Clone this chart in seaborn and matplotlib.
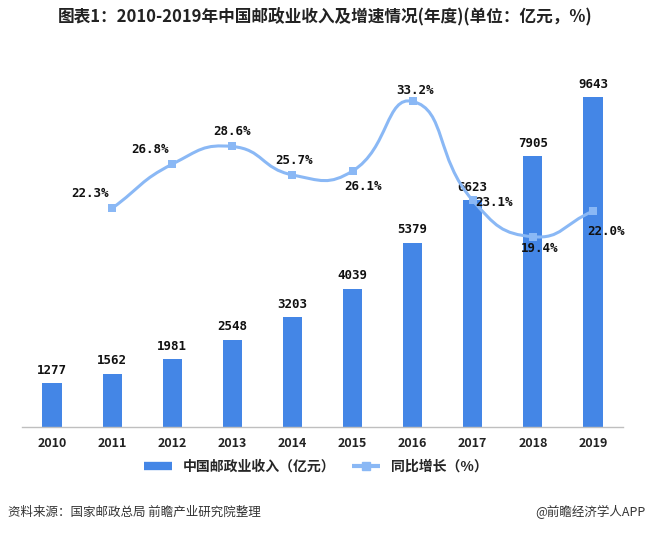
import numpy as np
import seaborn as sns
import matplotlib.pyplot as plt
from matplotlib.path import Path
from matplotlib.patches import PathPatch
from matplotlib.lines import Line2D

years = ['2010', '2011', '2012', '2013', '2014', '2015', '2016', '2017', '2018', '2019']
revenue = [1277, 1562, 1981, 2548, 3203, 4039, 5379, 6623, 7905, 9643]
growth_years = ['2011', '2012', '2013', '2014', '2015', '2016', '2017', '2018', '2019']
growth = [22.3, 26.8, 28.6, 25.7, 26.1, 33.2, 23.1, 19.4, 22.0]

# label offsets (pixels) for the growth labels
g_off = [(-22, 15), (-22, 15), (0, 15), (2, 14), (10, -15), (2, 11), (21, -2), (7, -12), (13, -20)]

bar_c = '#4486e6'
line_c = '#8ab8f5'

sns.set_style('white')
plt.rcParams['font.family'] = ['Noto Sans CJK SC', 'DejaVu Sans']

fig = plt.figure(figsize=(6.51, 5.33), dpi=100)
ax = fig.add_axes([22 / 651, 106 / 533, 601 / 651, 357 / 533])

sns.barplot(x=years, y=revenue, color=bar_c, width=0.32, saturation=1,
            linewidth=0, ax=ax)
ax.set_xlim(-0.5, 9.5)
ax.set_ylim(0, 10432)
for i, v in enumerate(revenue):
    ax.annotate(str(v), (i, v), xytext=(0, 13), textcoords='offset pixels',
                ha='center', va='center', fontsize=9, fontweight='bold',
                family='DejaVu Sans Mono', color='#111111')

ax2 = ax.twinx()
ax2.set_ylim(0, 36.4)
ax2.set_xlim(-0.5, 9.5)
gx = [years.index(y) for y in growth_years]

# smooth curve through the points (bezier, echarts-like smoothing)
fig.canvas.draw()
pts = ax2.transData.transform(np.column_stack([gx, growth]))
n = len(pts)
cps = []
for i in range(n):
    p = pts[i]
    prev = pts[i - 1] if i > 0 else p
    nxt = pts[i + 1] if i < n - 1 else p
    v = (nxt - prev) * 0.5
    d0 = np.hypot(*(p - prev))
    d1 = np.hypot(*(nxt - p))
    s = d0 + d1
    cps.append((p - v * d0 / s, p + v * d1 / s))
verts = [pts[0]]
codes = [Path.MOVETO]
for i in range(n - 1):
    verts += [cps[i][1], cps[i + 1][0], pts[i + 1]]
    codes += [Path.CURVE4] * 3
verts = ax2.transData.inverted().transform(np.array(verts))
ax2.add_patch(PathPatch(Path(verts, codes), fill=False, ec=line_c, lw=2.2, zorder=3))

sns.scatterplot(x=gx, y=growth, marker='s', s=36, color=line_c, edgecolor=line_c,
                linewidth=0, ax=ax2, zorder=4)
for x, v, (dx, dy) in zip(gx, growth, g_off):
    ax2.annotate(f'{v:.1f}%', (x, v), xytext=(dx, dy), textcoords='offset pixels',
                 ha='center', va='center', fontsize=9, fontweight='bold',
                 family='DejaVu Sans Mono', color='#111111', zorder=5)

for a in (ax, ax2):
    for sp in ['top', 'left', 'right']:
        a.spines[sp].set_visible(False)
    a.set_yticks([])
    a.set_ylabel('')
ax2.spines['bottom'].set_visible(False)
ax.spines['bottom'].set_color('#bfbfbf')
ax.spines['bottom'].set_linewidth(1)
ax.tick_params(axis='x', length=0, pad=7, labelsize=9, labelcolor='#222222')
for t in ax.get_xticklabels():
    t.set_fontweight('bold')
ax2.tick_params(axis='x', length=0, labelbottom=False)

handles = [Line2D([], [], color=bar_c, lw=6, solid_capstyle='butt'),
           Line2D([], [], color=line_c, lw=3, marker='s', markersize=6,
                  solid_capstyle='butt')]
fig.legend(handles, ['中国邮政业收入（亿元）', '同比增长（%）'], loc='center',
           bbox_to_anchor=(0.485, 0.124), ncol=2, frameon=False, handlelength=2.0,
           columnspacing=1.2, prop={'size': 10, 'weight': 'bold'})

fig.text(0.5, 0.968, '图表1：2010-2019年中国邮政业收入及增速情况(年度)(单位：亿元，%)',
         ha='center', va='center', fontsize=12, fontweight='bold', color='#222222')
fig.text(8 / 651, 1 - 512 / 533, '资料来源：国家邮政总局 前瞻产业研究院整理',
         ha='left', va='center', fontsize=9, color='#333333')
fig.text(646 / 651, 1 - 512 / 533, '@前瞻经济学人APP',
         ha='right', va='center', fontsize=9, color='#333333')

fig.savefig('out.png', dpi=100)
